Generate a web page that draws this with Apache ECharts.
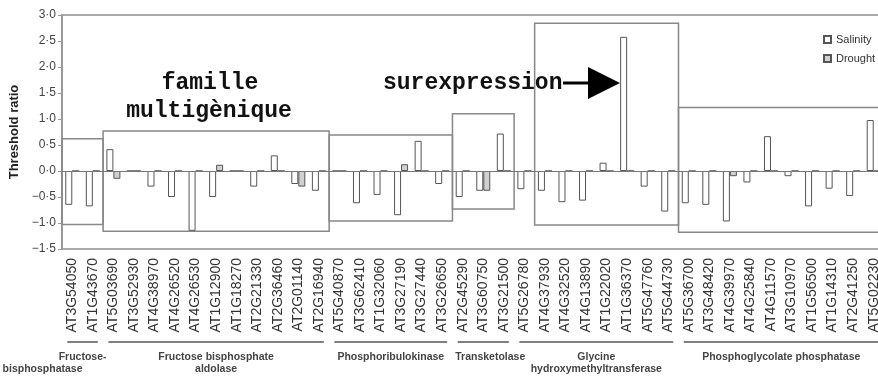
<!DOCTYPE html>
<html>
<head>
<meta charset="utf-8">
<script src="https://cdn.jsdelivr.net/npm/echarts@6/dist/echarts.min.js"></script>
<style>
  html, body { margin: 0; padding: 0; overflow: hidden; background: #fff; }
  #chart { width: 884px; height: 376px; }
</style>
</head>
<body>
<div id="chart"></div>
<script>
// genes on the x axis
var genes = ['AT3G54050', 'AT1G43670', 'AT5G03690', 'AT3G52930', 'AT4G38970', 'AT4G26520', 'AT4G26530', 'AT1G12900', 'AT1G18270', 'AT2G21330',
  'AT2G36460', 'AT2G01140', 'AT2G16940', 'AT5G40870', 'AT3G62410', 'AT1G32060', 'AT3G27190', 'AT3G27440', 'AT3G26650', 'AT2G45290',
  'AT3G60750', 'AT3G21500', 'AT5G26780', 'AT4G37930', 'AT4G32520', 'AT4G13890', 'AT1G22020', 'AT1G36370', 'AT5G47760', 'AT5G44730',
  'AT5G36700', 'AT3G48420', 'AT4G39970', 'AT4G25840', 'AT4G11570', 'AT3G10970', 'AT1G56500', 'AT1G14310', 'AT2G41250', 'AT5G02230']

var salinity = [-0.65, -0.68, 0.42, 0, -0.3, -0.5, -1.15, -0.5, 0, -0.3,
  0.3, -0.25, -0.38, 0, -0.62, -0.46, -0.85, 0.58, -0.25, -0.5,
  -0.38, 0.72, -0.35, -0.38, -0.6, -0.57, 0.16, 2.58, -0.3, -0.78,
  -0.62, -0.65, -0.97, -0.22, 0.67, -0.1, -0.68, -0.34, -0.48, 0.98]

var drought = [0, 0, -0.15, 0, 0, 0, 0, 0.12, 0, 0,
  0, -0.3, 0, 0, 0, 0, 0.13, 0, 0, 0,
  -0.38, 0, 0, 0, 0, 0, 0, 0, 0, 0,
  0, 0, -0.1, 0, 0, 0, 0, 0, 0, 0]

// gene families: first gene, last gene, label lines
var groupStart = [0, 2, 13, 19, 22, 30]
var groupEnd = [1, 12, 18, 21, 29, 39]
var groupLabels = [['Fructose-', 'bisphosphatase'], ['Fructose bisphosphate', 'aldolase'], ['Phosphoribulokinase'],
  ['Transketolase'], ['Glycine', 'hydroxymethyltransferase'], ['Phosphoglycolate phosphatase']]

// boxes around families: first gene, last gene, top, bottom
var boxStart = [0, 2, 13, 19, 23, 30]
var boxEnd = [1, 12, 18, 21, 29, 39]
var boxTop = [0.62, 0.77, 0.69, 1.1, 2.84, 1.22]
var boxBottom = [-1.03, -1.16, -0.96, -0.73, -1.04, -1.18]

var yTicks = { min: -1.5, max: 3, step: 0.5 }

var boxes = boxStart.map(function (s, i) { return [s, boxEnd[i], boxTop[i], boxBottom[i]] })

function fmtY(v) {
  var s = Math.abs(v).toFixed(1).replace('.', '\u00b7')
  return v < 0 ? '\u2212' + s : s
}

var chart = echarts.init(document.getElementById('chart'))
chart.setOption({
  animation: false,
  textStyle: { fontFamily: 'Liberation Sans, Arial, sans-serif' },
  grid: {
    left: 62, right: 0, top: 15, bottom: 127,
    show: true, borderColor: '#aaa', borderWidth: 2,
    outerBoundsMode: 'none'
  },
  legend: {
    orient: 'vertical',
    left: 818,
    top: 29,
    icon: 'rect',
    itemWidth: 7,
    itemHeight: 7,
    itemGap: 8,
    data: ['Salinity', 'Drought'],
    textStyle: { fontSize: 11, color: '#333' }
  },
  xAxis: {
    type: 'category',
    data: genes,
    axisLine: { show: false },
    axisTick: { show: false },
    axisLabel: { rotate: 90, interval: 0, fontSize: 14, color: '#333', margin: 9 }
  },
  yAxis: {
    type: 'value',
    min: yTicks.min,
    max: yTicks.max,
    interval: yTicks.step,
    name: 'Threshold ratio',
    nameLocation: 'middle',
    nameGap: 37,
    nameTextStyle: { fontSize: 13, fontWeight: 'bold', color: '#222' },
    axisLine: { show: true, lineStyle: { color: '#999', width: 2 } },
    axisTick: { show: true, length: 4, lineStyle: { color: '#999' } },
    axisLabel: { formatter: fmtY, fontSize: 12, color: '#444', margin: 6 },
    splitLine: { show: false }
  },
  series: [
    {
      name: 'Salinity',
      type: 'bar',
      data: salinity,
      barWidth: 7,
      barGap: '0%',
      itemStyle: { color: '#fff', borderColor: '#555', borderWidth: 1 },
      markLine: {
        silent: true,
        symbol: 'none',
        label: { show: false },
        lineStyle: { color: '#777', width: 1, type: 'solid' },
        data: [{ yAxis: 0 }]
      }
    },
    {
      name: 'Drought',
      type: 'bar',
      data: drought,
      barWidth: 7,
      itemStyle: { color: '#d0d0d0', borderColor: '#555', borderWidth: 1 }
    },
    {
      name: 'boxes',
      type: 'custom',
      data: boxes,
      encode: { x: [0, 1], y: [2, 3] },
      silent: true,
      renderItem: function (params, api) {
        var a = api.coord([api.value(0), api.value(2)])
        var b = api.coord([api.value(1), api.value(3)])
        var w = api.size([1, 0])[0]
        return {
          type: 'rect',
          shape: { x: a[0] - w / 2, y: a[1], width: b[0] - a[0] + w, height: b[1] - a[1] },
          style: { fill: 'none', stroke: '#888', lineWidth: 1.5 }
        }
      }
    }
  ]
})

// annotations and family labels under the axis
var monoFont = 'bold 23px "Liberation Mono", monospace'
var graphics = [
  { type: 'text', x: 210, y: 83, style: { text: 'famille', font: monoFont, fill: '#111', align: 'center', verticalAlign: 'middle' } },
  { type: 'text', x: 209, y: 111, style: { text: 'multigènique', font: monoFont, fill: '#111', align: 'center', verticalAlign: 'middle' } },
  { type: 'text', x: 383, y: 83, style: { text: 'surexpression', font: monoFont, fill: '#111', align: 'left', verticalAlign: 'middle' } },
  { type: 'line', shape: { x1: 563, y1: 83, x2: 592, y2: 83 }, style: { stroke: '#000', lineWidth: 3 } },
  { type: 'polygon', shape: { points: [[588, 67], [620, 83], [588, 99]] }, style: { fill: '#000' } }
]

groupStart.forEach(function (s, i) {
  var x1 = chart.convertToPixel({ gridIndex: 0 }, [s, 0])[0]
  var x2 = chart.convertToPixel({ gridIndex: 0 }, [groupEnd[i], 0])[0]
  graphics.push({ type: 'line', shape: { x1: x1 - 5, y1: 342, x2: x2 + 5, y2: 342 }, style: { stroke: '#555', lineWidth: 1.5 } })
  var cx = (x1 + x2) / 2
  groupLabels[i].forEach(function (t, j) {
    var dx = 0
    if (i === 0 && j === 1) dx = -40
    if (i === 3) dx = 7
    graphics.push({
      type: 'text', x: cx + dx, y: 357 + j * 12,
      style: { text: t, font: 'bold 10.5px "Liberation Sans", Arial, sans-serif', fill: '#444', align: 'center', verticalAlign: 'middle' }
    })
  })
})

chart.setOption({ graphic: graphics })
</script>
</body>
</html>
